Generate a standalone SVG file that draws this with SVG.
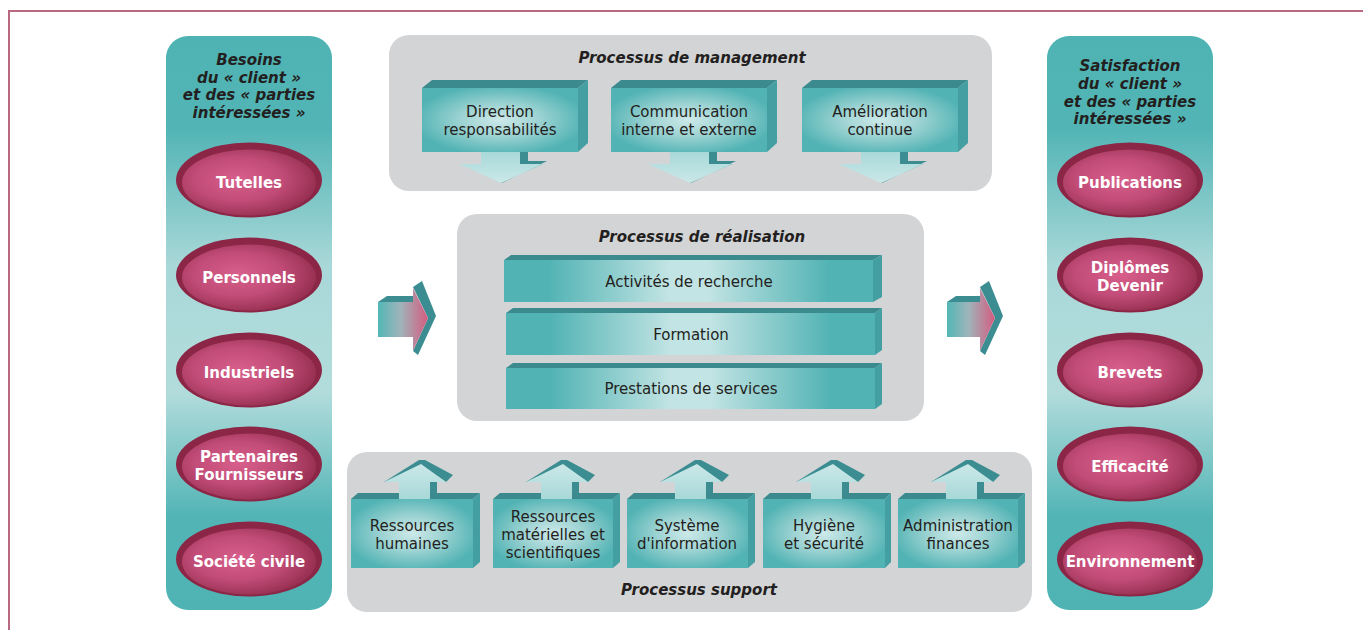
<svg xmlns="http://www.w3.org/2000/svg" width="1363" height="630" viewBox="0 0 1363 630">
<defs>
<linearGradient id="colG" x1="0" y1="0" x2="0" y2="1">
<stop offset="0" stop-color="#4fb3b4"/>
<stop offset="0.16" stop-color="#52b4b5"/>
<stop offset="0.4" stop-color="#a9d8d8"/>
<stop offset="0.62" stop-color="#b2dcdc"/>
<stop offset="0.84" stop-color="#52b4b5"/>
<stop offset="1" stop-color="#4fb3b4"/>
</linearGradient>
<radialGradient id="ellG" cx="0.42" cy="0.45" r="0.6">
<stop offset="0" stop-color="#d85f8b"/>
<stop offset="0.55" stop-color="#c14c77"/>
<stop offset="1" stop-color="#962f51"/>
</radialGradient>
<radialGradient id="boxG" cx="0.5" cy="0.5" r="0.55">
<stop offset="0" stop-color="#cde9e9"/>
<stop offset="0.45" stop-color="#9ed3d3"/>
<stop offset="1" stop-color="#52b3b4"/>
</radialGradient>
<linearGradient id="barG" x1="0" y1="0" x2="1" y2="0">
<stop offset="0" stop-color="#52b3b4"/>
<stop offset="0.12" stop-color="#52b3b4"/>
<stop offset="0.45" stop-color="#c3e4e4"/>
<stop offset="0.55" stop-color="#c3e4e4"/>
<stop offset="0.88" stop-color="#52b3b4"/>
<stop offset="1" stop-color="#52b3b4"/>
</linearGradient>
<linearGradient id="arrG" x1="0" y1="0" x2="1" y2="0">
<stop offset="0" stop-color="#52b6b6"/>
<stop offset="0.45" stop-color="#9fb4ba"/>
<stop offset="1" stop-color="#d45c80"/>
</linearGradient>
<linearGradient id="dArrG" x1="0" y1="0" x2="0" y2="1">
<stop offset="0" stop-color="#a8d8d8"/>
<stop offset="1" stop-color="#cbe8e8"/>
</linearGradient>
<linearGradient id="uArrG" x1="0" y1="1" x2="0" y2="0">
<stop offset="0" stop-color="#a8d8d8"/>
<stop offset="1" stop-color="#cbe8e8"/>
</linearGradient>
</defs>
<style>
.frame{stroke:#b8697f;stroke-width:2;fill:none}
.col{fill:url(#colG)}
.gray{fill:#d3d4d6}
.ttl{font-family:"DejaVu Sans",Verdana,sans-serif;font-size:15px;font-weight:bold;font-style:italic;fill:#231f20;text-anchor:middle}
.lbl{font-family:"DejaVu Sans",Verdana,sans-serif;font-size:15px;fill:#231f20;text-anchor:middle}
.ell{font-family:"DejaVu Sans",Verdana,sans-serif;font-size:15px;font-weight:bold;fill:#ffffff;text-anchor:middle}
.rim{fill:#8b2646}
.inner{fill:url(#ellG)}
.top{fill:#3a8a8e}
.side{fill:#449fa2}
.front{fill:url(#boxG)}
.bar{fill:url(#barG)}
.dk{fill:#3b8d91}
.lt{fill:url(#dArrG)}
.ult{fill:url(#uArrG)}
.sarr{fill:url(#arrG)}
</style>

<path class="frame" d="M9 630 V11 H1363"/>

<!-- containers -->
<g id="col-left">
<rect class="col" x="166" y="36" width="166" height="574" rx="22"/>
<text class="ttl" x="249" y="65">Besoins</text>
<text class="ttl" x="249" y="83">du « client »</text>
<text class="ttl" x="249" y="100">et des « parties</text>
<text class="ttl" x="249" y="118">intéressées »</text>
</g>
<g id="col-right">
<rect class="col" x="1047" y="36" width="166" height="574" rx="22"/>
<text class="ttl" x="1130" y="71">Satisfaction</text>
<text class="ttl" x="1130" y="89">du « client »</text>
<text class="ttl" x="1130" y="107">et des « parties</text>
<text class="ttl" x="1130" y="124">intéressées »</text>
</g>
<g id="mgmt">
<rect class="gray" x="389" y="35" width="603" height="156" rx="20"/>
<text class="ttl" x="692" y="63">Processus de management</text>
</g>
<g id="real">
<rect class="gray" x="457" y="214" width="467" height="207" rx="20"/>
<text class="ttl" x="702" y="242">Processus de réalisation</text>
</g>
<g id="supp">
<rect class="gray" x="347" y="452" width="685" height="160" rx="20"/>
<text class="ttl" x="699" y="595">Processus support</text>
</g>

<!-- left ellipses -->
<g id="e-tutelles"><ellipse class="rim" cx="249" cy="180" rx="73" ry="37.5"/><ellipse class="inner" cx="249" cy="182.5" rx="67" ry="33"/><text class="ell" x="249" y="188">Tutelles</text></g>
<g id="e-personnels"><ellipse class="rim" cx="249" cy="275" rx="73" ry="37.5"/><ellipse class="inner" cx="249" cy="277.5" rx="67" ry="33"/><text class="ell" x="249" y="283">Personnels</text></g>
<g id="e-industriels"><ellipse class="rim" cx="249" cy="370" rx="73" ry="37.5"/><ellipse class="inner" cx="249" cy="372.5" rx="67" ry="33"/><text class="ell" x="249" y="378">Industriels</text></g>
<g id="e-partenaires"><ellipse class="rim" cx="249" cy="464" rx="73" ry="37.5"/><ellipse class="inner" cx="249" cy="466.5" rx="67" ry="33"/><text class="ell" x="249" y="462">Partenaires</text><text class="ell" x="249" y="480">Fournisseurs</text></g>
<g id="e-societe"><ellipse class="rim" cx="249" cy="559" rx="73" ry="37.5"/><ellipse class="inner" cx="249" cy="561.5" rx="67" ry="33"/><text class="ell" x="249" y="567">Société civile</text></g>

<!-- right ellipses -->
<g id="e-publications"><ellipse class="rim" cx="1130" cy="180" rx="73" ry="37.5"/><ellipse class="inner" cx="1130" cy="182.5" rx="67" ry="33"/><text class="ell" x="1130" y="188">Publications</text></g>
<g id="e-diplomes"><ellipse class="rim" cx="1130" cy="275" rx="73" ry="37.5"/><ellipse class="inner" cx="1130" cy="277.5" rx="67" ry="33"/><text class="ell" x="1130" y="273">Diplômes</text><text class="ell" x="1130" y="291">Devenir</text></g>
<g id="e-brevets"><ellipse class="rim" cx="1130" cy="370" rx="73" ry="37.5"/><ellipse class="inner" cx="1130" cy="372.5" rx="67" ry="33"/><text class="ell" x="1130" y="378">Brevets</text></g>
<g id="e-efficacite"><ellipse class="rim" cx="1130" cy="464" rx="73" ry="37.5"/><ellipse class="inner" cx="1130" cy="466.5" rx="67" ry="33"/><text class="ell" x="1130" y="472">Efficacité</text></g>
<g id="e-environnement"><ellipse class="rim" cx="1130" cy="559" rx="73" ry="37.5"/><ellipse class="inner" cx="1130" cy="561.5" rx="67" ry="33"/><text class="ell" x="1130" y="567">Environnement</text></g>

<!-- management nodes -->
<g id="m-direction" transform="translate(422,88)">
<polygon class="top" points="0,0 10,-8 166,-8 156,0"/>
<polygon class="side" points="156,0 166,-8 166,55 156,64"/>
<rect class="front" x="0" y="0" width="156" height="64"/>
<polygon class="dk" points="98,64 106,64 106,73 125,73 80,95 78,95 121,76 98,76"/>
<polygon class="lt" points="59,64 98,64 98,76 121,76 79,95 37,76 59,76"/>
<text class="lbl" x="78" y="29">Direction</text>
<text class="lbl" x="78" y="47">responsabilités</text>
</g>
<g id="m-communication" transform="translate(611,88)">
<polygon class="top" points="0,0 10,-8 166,-8 156,0"/>
<polygon class="side" points="156,0 166,-8 166,55 156,64"/>
<rect class="front" x="0" y="0" width="156" height="64"/>
<polygon class="dk" points="98,64 106,64 106,73 125,73 80,95 78,95 121,76 98,76"/>
<polygon class="lt" points="59,64 98,64 98,76 121,76 79,95 37,76 59,76"/>
<text class="lbl" x="78" y="29">Communication</text>
<text class="lbl" x="78" y="47">interne et externe</text>
</g>
<g id="m-amelioration" transform="translate(802,88)">
<polygon class="top" points="0,0 10,-8 166,-8 156,0"/>
<polygon class="side" points="156,0 166,-8 166,55 156,64"/>
<rect class="front" x="0" y="0" width="156" height="64"/>
<polygon class="dk" points="98,64 106,64 106,73 125,73 80,95 78,95 121,76 98,76"/>
<polygon class="lt" points="59,64 98,64 98,76 121,76 79,95 37,76 59,76"/>
<text class="lbl" x="78" y="29">Amélioration</text>
<text class="lbl" x="78" y="47">continue</text>
</g>

<!-- realisation bars -->
<g id="r-activites" transform="translate(504,260)">
<polygon class="top" points="0,0 7,-5 378,-5 369,0"/>
<polygon class="side" points="369,0 378,-5 378,37 369,42"/>
<rect class="bar" x="0" y="0" width="369" height="42"/>
<text class="lbl" x="185" y="27">Activités de recherche</text>
</g>
<g id="r-formation" transform="translate(506,313)">
<polygon class="top" points="0,0 7,-5 376,-5 369,0"/>
<polygon class="side" points="369,0 376,-5 376,37 369,42"/>
<rect class="bar" x="0" y="0" width="369" height="42"/>
<text class="lbl" x="185" y="27">Formation</text>
</g>
<g id="r-prestations" transform="translate(506,368)">
<polygon class="top" points="0,0 7,-5 376,-5 369,0"/>
<polygon class="side" points="369,0 376,-5 376,36 369,41"/>
<rect class="bar" x="0" y="0" width="369" height="41"/>
<text class="lbl" x="185" y="26">Prestations de services</text>
</g>

<!-- support nodes -->
<g id="s-rh" transform="translate(351,499)">
<polygon class="top" points="0,0 7,-6 129,-6 122,0"/>
<polygon class="side" points="122,0 129,-6 129,63 122,69"/>
<rect class="front" x="0" y="0" width="122" height="69"/>
<rect class="dk" x="79" y="-17" width="7" height="11"/>
<polygon class="dk" points="68,-39 74,-39 102,-24 95,-17 70,-34 36,-17 33,-17"/>
<polygon class="ult" points="48,0 48,-17 33,-17 70,-35 95,-17 79,-17 79,-6 79,0"/>
<text class="lbl" x="61" y="32">Ressources</text>
<text class="lbl" x="61" y="50">humaines</text>
</g>
<g id="s-rm" transform="translate(493,499)">
<polygon class="top" points="0,0 7,-6 127,-6 120,0"/>
<polygon class="side" points="120,0 127,-6 127,63 120,69"/>
<rect class="front" x="0" y="0" width="120" height="69"/>
<rect class="dk" x="79" y="-17" width="7" height="11"/>
<polygon class="dk" points="68,-39 74,-39 102,-24 95,-17 70,-34 36,-17 33,-17"/>
<polygon class="ult" points="48,0 48,-17 33,-17 70,-35 95,-17 79,-17 79,-6 79,0"/>
<text class="lbl" x="60" y="23">Ressources</text>
<text class="lbl" x="60" y="41">matérielles et</text>
<text class="lbl" x="60" y="59">scientifiques</text>
</g>
<g id="s-si" transform="translate(627,499)">
<polygon class="top" points="0,0 7,-6 128,-6 121,0"/>
<polygon class="side" points="121,0 128,-6 128,63 121,69"/>
<rect class="front" x="0" y="0" width="121" height="69"/>
<rect class="dk" x="79" y="-17" width="7" height="11"/>
<polygon class="dk" points="68,-39 74,-39 102,-24 95,-17 70,-34 36,-17 33,-17"/>
<polygon class="ult" points="48,0 48,-17 33,-17 70,-35 95,-17 79,-17 79,-6 79,0"/>
<text class="lbl" x="60" y="32">Système</text>
<text class="lbl" x="60" y="50">d'information</text>
</g>
<g id="s-hs" transform="translate(763,499)">
<polygon class="top" points="0,0 7,-6 128,-6 122,0"/>
<polygon class="side" points="122,0 128,-6 128,63 122,69"/>
<rect class="front" x="0" y="0" width="122" height="69"/>
<rect class="dk" x="79" y="-17" width="7" height="11"/>
<polygon class="dk" points="68,-39 74,-39 102,-24 95,-17 70,-34 36,-17 33,-17"/>
<polygon class="ult" points="48,0 48,-17 33,-17 70,-35 95,-17 79,-17 79,-6 79,0"/>
<text class="lbl" x="61" y="32">Hygiène</text>
<text class="lbl" x="61" y="50">et sécurité</text>
</g>
<g id="s-af" transform="translate(898,499)">
<polygon class="top" points="0,0 7,-6 127,-6 120,0"/>
<polygon class="side" points="120,0 127,-6 127,63 120,69"/>
<rect class="front" x="0" y="0" width="120" height="69"/>
<rect class="dk" x="79" y="-17" width="7" height="11"/>
<polygon class="dk" points="68,-39 74,-39 102,-24 95,-17 70,-34 36,-17 33,-17"/>
<polygon class="ult" points="48,0 48,-17 33,-17 70,-35 95,-17 79,-17 79,-6 79,0"/>
<text class="lbl" x="60" y="32">Administration</text>
<text class="lbl" x="60" y="50">finances</text>
</g>

<!-- connectors: flow arrows -->
<g id="connectors">
<g transform="translate(378,0)">
<polygon class="dk" points="0,302 9,296 35,296 35,302"/>
<polygon class="dk" points="35,287 44,281 58,316 40,355 35,351 50,318"/>
<polygon class="sarr" points="0,302 35,302 35,288 50,318 35,351 35,337 0,337"/>
</g>
<g transform="translate(947,0)">
<polygon class="dk" points="0,302 9,296 33,296 33,302"/>
<polygon class="dk" points="33,287 42,281 56,316 38,355 33,351 48,318"/>
<polygon class="sarr" points="0,302 33,302 33,288 48,318 33,351 33,337 0,337"/>
</g>
</g>
</svg>
